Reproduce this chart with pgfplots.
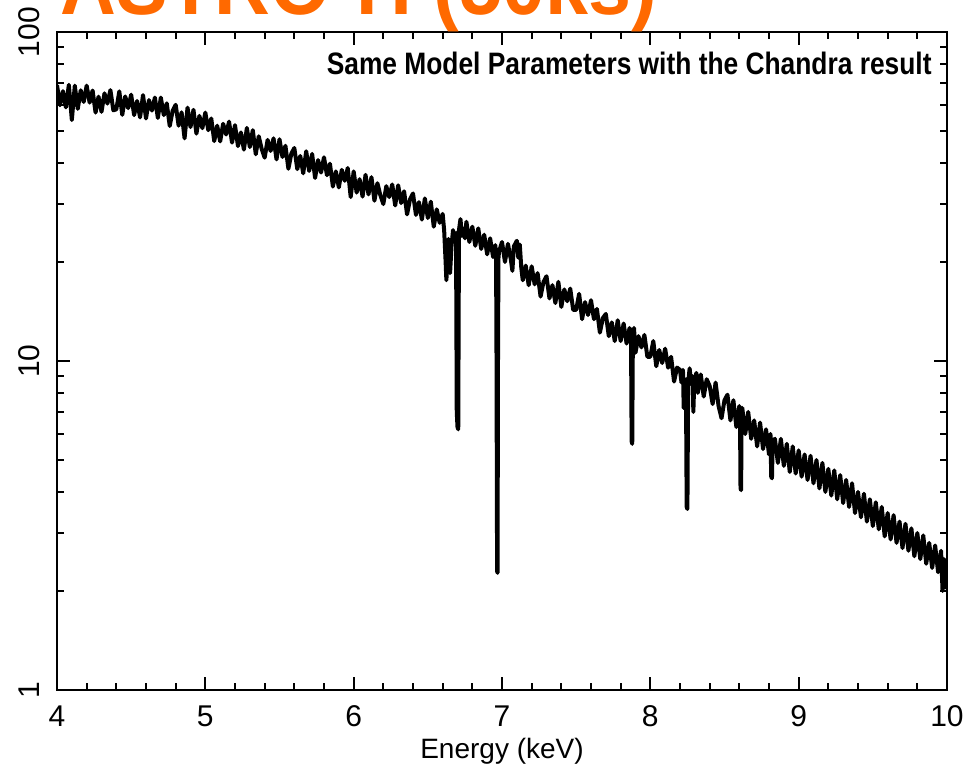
\documentclass[border=0pt]{standalone}
\usepackage{fontspec}
\setmainfont{Liberation Sans}
\newfontfamily\condfont[FakeStretch=0.85]{Liberation Sans}
\newfontfamily\titlefont[FakeStretch=0.92]{Liberation Sans}
\usepackage{pgfplots}
\pgfplotsset{compat=1.18}
\usepackage{pgfplotstable}
\definecolor{titleorange}{RGB}{255,105,0}

\pgfplotstableread{
x y
4.00 69.0
4.02 59.9
4.04 66.1
4.06 59.0
4.08 69.1
4.10 54.0
4.12 68.7
4.14 58.4
4.16 66.5
4.18 61.3
4.20 68.7
4.22 61.0
4.24 66.4
4.26 56.9
4.28 63.6
4.30 57.2
4.32 65.1
4.34 60.6
4.36 66.6
4.38 57.8
4.40 58.2
4.42 66.0
4.44 56.0
4.46 63.7
4.48 58.7
4.50 64.5
4.52 55.9
4.54 61.7
4.56 55.0
4.58 64.3
4.60 54.6
4.62 62.1
4.64 57.7
4.66 63.2
4.68 54.8
4.70 63.2
4.72 55.9
4.74 60.7
4.76 51.8
4.78 57.7
4.80 60.1
4.82 51.9
4.84 57.0
4.86 47.5
4.88 58.9
4.90 51.4
4.92 58.0
4.94 49.1
4.96 55.6
4.98 51.0
5.00 56.9
5.02 50.3
5.04 54.6
5.06 46.6
5.08 51.9
5.10 46.5
5.12 52.6
5.14 48.8
5.16 53.4
5.18 46.1
5.20 52.1
5.22 45.0
5.24 49.5
5.26 43.9
5.28 51.1
5.30 44.7
5.32 50.3
5.34 42.5
5.36 48.2
5.38 44.1
5.40 41.5
5.42 47.0
5.44 43.5
5.46 47.5
5.48 41.0
5.50 47.2
5.52 41.7
5.54 45.1
5.56 38.4
5.58 42.7
5.60 44.4
5.62 38.3
5.64 42.0
5.66 37.2
5.68 43.4
5.70 37.8
5.72 42.6
5.74 36.0
5.76 40.8
5.78 37.4
5.80 41.6
5.82 36.7
5.84 39.8
5.86 33.9
5.88 37.7
5.90 33.7
5.92 38.1
5.94 35.3
5.96 38.6
5.98 31.5
6.00 37.7
6.02 32.5
6.04 35.7
6.06 31.6
6.08 36.8
6.10 32.1
6.12 36.2
6.14 30.7
6.16 34.7
6.18 31.9
6.20 30.0
6.22 34.0
6.24 31.5
6.26 34.4
6.28 29.7
6.30 34.2
6.32 30.2
6.34 32.8
6.36 27.9
6.38 31.0
6.40 32.3
6.42 27.8
6.44 30.4
6.46 26.9
6.48 31.2
6.50 27.2
6.52 30.5
6.54 25.6
6.56 28.9
6.58 26.3
6.60 28.0
6.61 25.0
6.62 20.0
6.625 17.6
6.63 19.5
6.64 23.5
6.65 18.5
6.66 22.5
6.67 25.0
6.68 23.0
6.69 24.5
6.695 7.0
6.700 6.3
6.705 6.2
6.71 25.0
6.72 27.0
6.73 24.0
6.74 25.2
6.75 23.6
6.76 26.5
6.78 23.0
6.80 25.6
6.82 22.4
6.84 25.3
6.86 21.9
6.88 24.2
6.90 21.1
6.92 23.6
6.94 20.7
6.955 22.5
6.960 21.0
6.963 10.4
6.967 2.3
6.970 2.27
6.973 10.0
6.976 20.5
6.98 21.5
7.00 23.0
7.02 20.0
7.04 22.7
7.06 20.3
7.07 18.8
7.08 22.3
7.10 23.2
7.11 20.6
7.12 22.6
7.13 19.2
7.14 17.6
7.16 19.5
7.18 17.0
7.20 19.4
7.22 17.1
7.24 18.5
7.26 15.7
7.28 17.4
7.30 18.1
7.32 15.5
7.34 17.0
7.36 15.0
7.38 17.4
7.40 14.6
7.42 16.5
7.44 15.2
7.46 16.6
7.48 14.3
7.50 14.3
7.52 16.0
7.54 13.4
7.56 15.1
7.58 13.8
7.60 15.3
7.62 13.4
7.64 14.4
7.66 12.2
7.68 13.5
7.70 13.9
7.72 11.9
7.74 13.1
7.76 11.5
7.78 13.3
7.80 11.5
7.82 13.0
7.84 11.3
7.86 12.6
7.870 11.4
7.874 5.7
7.878 5.6
7.882 11.2
7.89 12.6
7.90 10.6
7.92 11.9
7.94 11.0
7.96 12.0
7.98 10.3
8.00 10.3
8.02 11.5
8.04 9.64
8.06 10.8
8.08 9.86
8.10 10.9
8.12 9.54
8.14 10.3
8.16 8.66
8.18 9.55
8.20 9.4
8.21 8.6
8.22 9.4
8.225 7.2
8.23 8.7
8.240 8.8
8.245 3.6
8.250 3.55
8.255 8.6
8.265 9.5
8.275 8.5
8.285 9.0
8.29 7.0
8.295 8.3
8.31 9.2
8.32 8.0
8.34 9.1
8.36 7.8
8.38 8.8
8.40 8.4
8.42 7.4
8.44 8.6
8.46 7.3
8.48 6.7
8.50 7.6
8.52 7.9
8.54 6.6
8.56 7.6
8.58 6.3
8.60 7.3
8.605 6.4
8.608 4.1
8.612 4.05
8.615 6.4
8.62 7.2
8.64 6.0
8.66 7.0
8.68 5.8
8.70 6.6
8.72 5.5
8.74 6.5
8.76 5.4
8.78 6.2
8.80 5.2
8.810 6.0
8.815 4.45
8.820 4.4
8.825 5.7
8.84 5.8
8.86 4.9
8.88 5.8
8.90 4.8
8.92 5.6
8.94 4.6
8.96 5.5
8.98 4.55
9.00 5.35
9.02 4.45
9.04 5.2
9.06 4.35
9.08 5.15
9.10 4.25
9.12 5.0
9.14 4.1
9.16 4.9
9.18 4.0
9.20 4.7
9.22 3.9
9.24 4.65
9.26 3.8
9.28 4.5
9.30 3.7
9.32 4.35
9.34 3.6
9.36 4.25
9.38 3.45
9.40 4.0
9.42 3.35
9.44 3.95
9.46 3.25
9.48 3.8
9.50 3.15
9.52 3.72
9.54 3.08
9.56 3.6
9.58 2.93
9.60 3.45
9.62 2.87
9.64 3.4
9.66 2.8
9.68 3.25
9.70 2.7
9.72 3.2
9.74 2.65
9.76 3.1
9.78 2.55
9.80 3.0
9.82 2.5
9.84 2.95
9.86 2.42
9.88 2.8
9.90 2.35
9.92 2.75
9.94 2.28
9.96 2.65
9.97 2.0
9.98 2.5
9.99 2.05
10.00 2.35
}\spectrum

\begin{document}
\begin{tikzpicture}[x=1pt,y=1pt]
\useasboundingbox (-28.5,-37.5) rectangle (458,345);
\begin{axis}[
  at={(0,0)}, anchor=south west,
  scale only axis, width=445pt, height=329pt,
  xmin=4, xmax=10, ymode=log, ymin=1, ymax=100,
  xtick={4,5,6,7,8,9,10}, minor x tick num=4,
  ytick={1,10,100},
  tick align=inside,
  major tick length=6.5pt, minor tick length=3.5pt,
  axis line style={line width=1.1pt},
  every tick/.style={black, line width=0.9pt},
  tick label style={font=\fontsize{15}{15}\selectfont},
  /pgf/number format/assume math mode=true,
  log ticks with fixed point,
  yticklabel style={rotate=90, anchor=south, inner sep=0pt},
  yticklabel shift=8.5pt,
  xticklabel style={inner sep=0pt},
  xticklabel shift=7.5pt,
  xlabel={Energy (keV)},
  xlabel style={font=\fontsize{14}{14}\selectfont, at={(axis description cs:0.5,0)}, anchor=north, yshift=-24pt, inner sep=0pt},
]
\addplot[black, line width=2pt, line join=round, no markers] table[x=x, y=y] {\spectrum};
\node[anchor=base east, inner sep=0pt, font=\condfont\bfseries\fontsize{15.5}{15.5}\selectfont, xshift=-7.5pt, yshift=-21.5pt] at (rel axis cs:1,1) {Same Model Parameters with the Chandra result};
\end{axis}
\node[anchor=base west, inner sep=0pt, text=titleorange, font=\titlefont\bfseries\fontsize{42}{42}\selectfont] at (1.5,337.5) {ASTRO-H (50ks)};
\end{tikzpicture}
\end{document}
